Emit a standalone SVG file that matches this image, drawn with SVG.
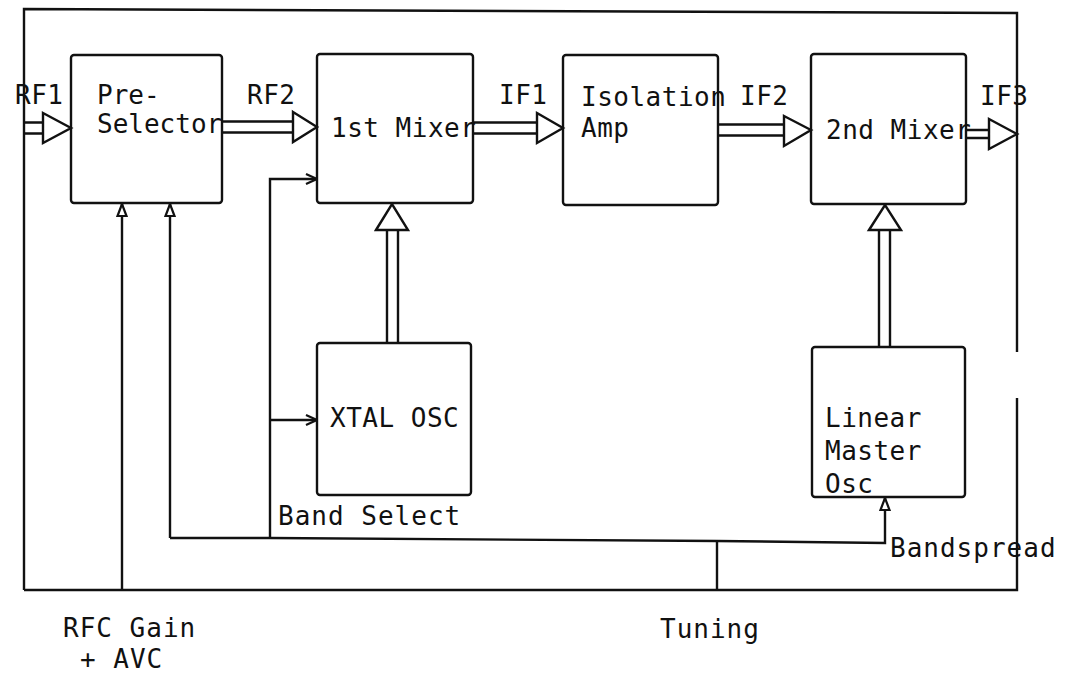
<svg xmlns="http://www.w3.org/2000/svg" width="1076" height="675" viewBox="0 0 1076 675">
<style>
.box{fill:none;stroke:#111;stroke-width:2.4}
.ln{fill:none;stroke:#111;stroke-width:2.4}
.bus{fill:#fff;stroke:#111;stroke-width:2.4;stroke-linejoin:miter}
.t{font-family:"DejaVu Sans Mono","Liberation Mono",monospace;font-size:26px;fill:#111;letter-spacing:0.5px}
.w{letter-spacing:1px}
.n{letter-spacing:0}
</style>
<defs>
<marker id="tri" viewBox="0 0 14 12" refX="13" refY="6" markerWidth="14" markerHeight="12" markerUnits="userSpaceOnUse" orient="auto">
<path d="M1 1.5 L13 6 L1 10.5 Z" fill="#fff" stroke="#111" stroke-width="2.2"/>
</marker>
<marker id="chev" viewBox="0 0 14 12" refX="13" refY="6" markerWidth="14" markerHeight="12" markerUnits="userSpaceOnUse" orient="auto">
<path d="M2 1 L13 6 L2 11" fill="none" stroke="#111" stroke-width="2.2"/>
</marker>
</defs>
<rect width="1076" height="675" fill="#fff"/>
<g id="frame">
<path class="ln" d="M24 590 V9 L1017 13 V352 M1017 398 V590 H24"/>
</g>
<g id="connectors">
<path class="bus" d="M24 122.5 H43 M24 133.5 H43"/>
<path class="bus" d="M43 113 L71 128 L43 143 Z"/>
<path class="bus" d="M222 121.5 H293 M222 132.5 H293"/>
<path class="bus" d="M293 112 L317 127 L293 142 Z"/>
<path class="bus" d="M473 122.5 H537 M473 133.5 H537"/>
<path class="bus" d="M537 113 L563 128 L537 143 Z"/>
<path class="bus" d="M718 124.5 H784 M718 135.5 H784"/>
<path class="bus" d="M784 116 L811 130 L784 146 Z"/>
<path class="bus" d="M966 130 H989 M966 138 H989"/>
<path class="bus" d="M989 119 L1017 134 L989 149 Z"/>
<path class="bus" d="M387 343 V230 M398 343 V230"/>
<path class="bus" d="M376 230 L392 204 L408 230 Z"/>
<path class="bus" d="M879 347 V230 M890 347 V230"/>
<path class="bus" d="M869 230 L885 205 L901 230 Z"/>
<path class="ln" d="M122 590 V204" marker-end="url(#tri)"/>
<path class="ln" d="M170 538 L270 538 L717 541 L885 543 V498" marker-end="url(#tri)"/>
<path class="ln" d="M170 538 V204" marker-end="url(#tri)"/>
<path class="ln" d="M717 541 V590"/>
<path class="ln" d="M270 538 V179 H317" marker-end="url(#chev)"/>
<path class="ln" d="M270 420 H317" marker-end="url(#chev)"/>
</g>
<g id="preselector">
<rect class="box" x="71" y="55" width="151" height="148" rx="3"/>
<text class="t n" x="97" y="104">Pre-</text>
<text class="t n" x="97" y="133">Selector</text>
</g>
<g id="mixer1">
<rect class="box" x="317" y="54" width="156" height="149" rx="3"/>
<text class="t" x="331" y="137">1st Mixer</text>
</g>
<g id="isoamp">
<rect class="box" x="563" y="55" width="155" height="150" rx="3"/>
<text class="t" x="581" y="106">Isolation</text>
<text class="t" x="581" y="137">Amp</text>
</g>
<g id="mixer2">
<rect class="box" x="811" y="54" width="155" height="150" rx="3"/>
<text class="t" x="826" y="139">2nd Mixer</text>
</g>
<g id="xtalosc">
<rect class="box" x="317" y="343" width="154" height="152" rx="3"/>
<text class="t" x="330" y="427">XTAL OSC</text>
</g>
<g id="lmo">
<rect class="box" x="812" y="347" width="153" height="150" rx="3"/>
<text class="t" x="825" y="427">Linear</text>
<text class="t" x="825" y="460">Master</text>
<text class="t" x="825" y="493">Osc</text>
</g>
<g id="labels">
<text class="t" x="15" y="104">RF1</text>
<text class="t" x="247" y="104">RF2</text>
<text class="t" x="499" y="104">IF1</text>
<text class="t" x="740" y="105">IF2</text>
<text class="t" x="980" y="105">IF3</text>
<text class="t w" x="278" y="525">Band Select</text>
<text class="t w" x="890" y="557">Bandspread</text>
<text class="t w" x="63" y="637">RFC Gain</text>
<text class="t w" x="80" y="668">+ AVC</text>
<text class="t w" x="660" y="638">Tuning</text>
</g>
</svg>
